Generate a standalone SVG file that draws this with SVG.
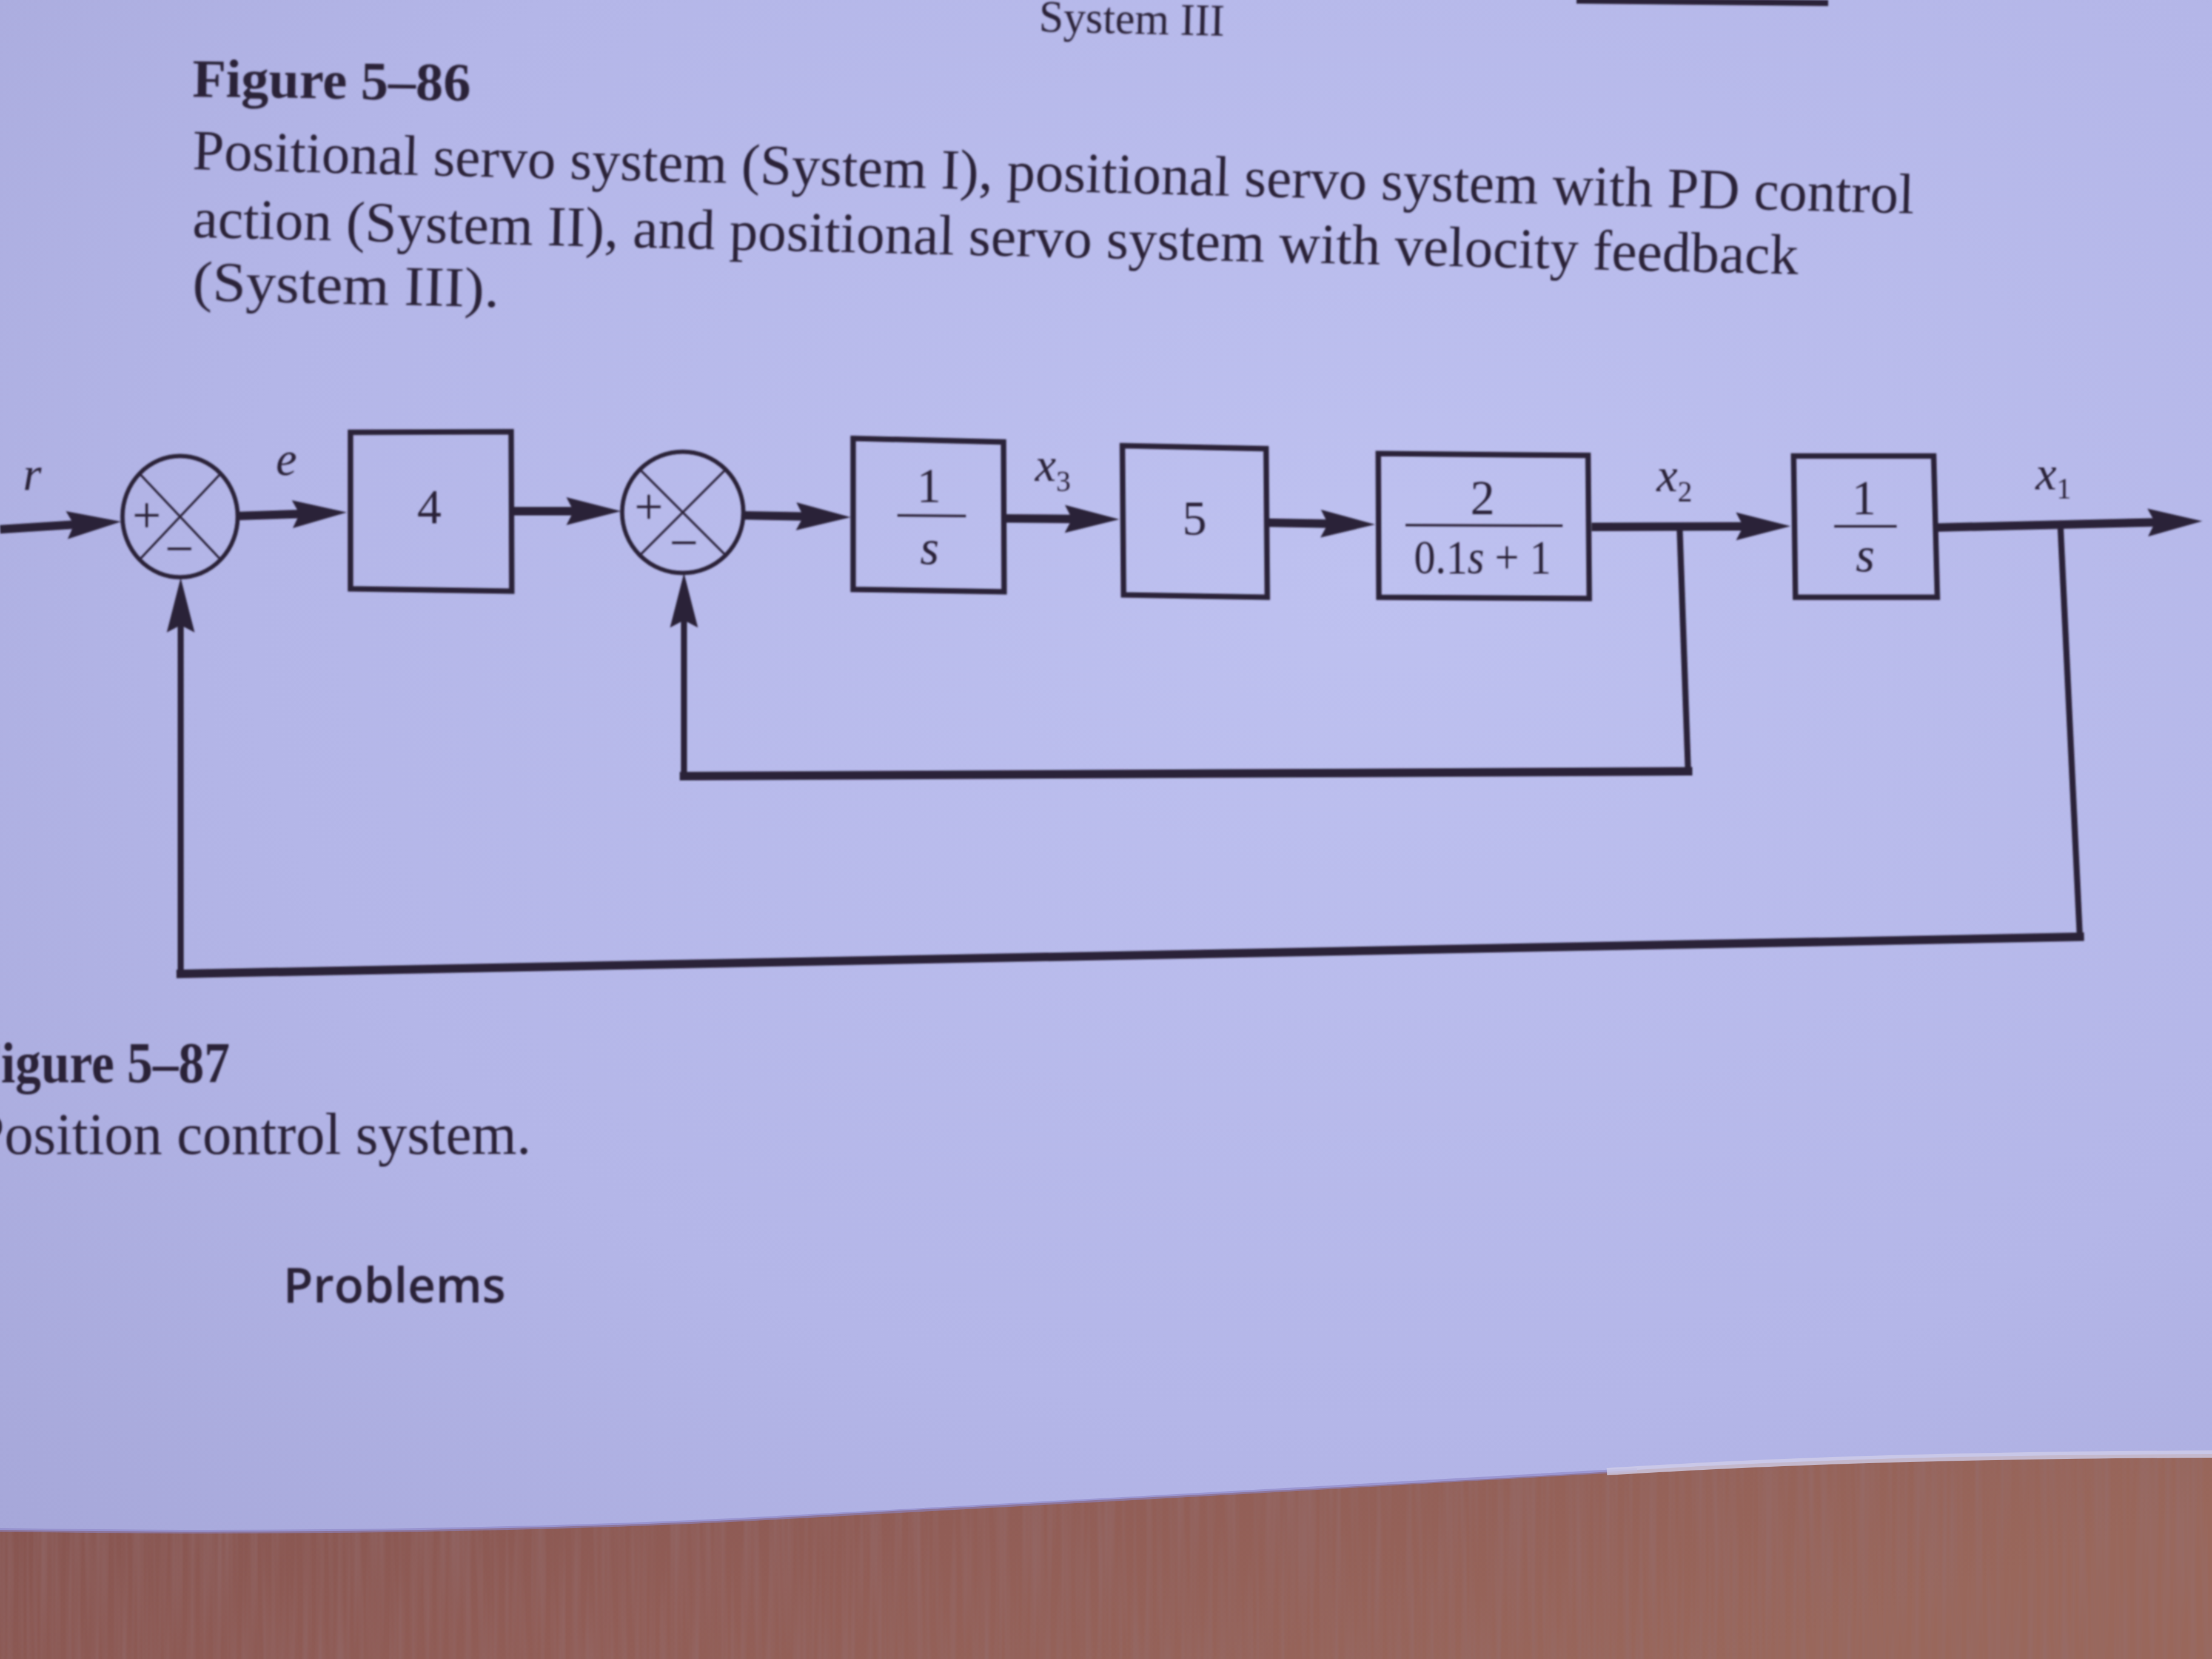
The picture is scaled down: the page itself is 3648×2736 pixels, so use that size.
<svg xmlns="http://www.w3.org/2000/svg" width="3648" height="2736" viewBox="0 0 3648 2736">
  <defs>
    <radialGradient id="paper" cx="0.62" cy="0.35" r="0.85">
      <stop offset="0" stop-color="#bec1f0"/>
      <stop offset="0.6" stop-color="#b4b6e8"/>
      <stop offset="1" stop-color="#a6a7d9"/>
    </radialGradient>
    <linearGradient id="wood" x1="0" y1="0" x2="1" y2="0.3">
      <stop offset="0" stop-color="#85534f"/>
      <stop offset="0.5" stop-color="#915d56"/>
      <stop offset="1" stop-color="#99675b"/>
    </linearGradient>
    <filter id="grain" x="0" y="0" width="1" height="1">
      <feTurbulence type="fractalNoise" baseFrequency="0.09 0.003" numOctaves="2" seed="7"/>
      <feColorMatrix type="matrix" values="0 0 0 0 0.3  0 0 0 0 0.16  0 0 0 0 0.17  0 0 0 0.9 -0.33"/>
    </filter>
    <filter id="soft" x="-0.02" y="-0.02" width="1.04" height="1.04">
      <feGaussianBlur stdDeviation="1.4"/>
    </filter>
    <clipPath id="deskClip">
      <path d="M0,2523 C400,2530 900,2525 1300,2502 C1700,2478 2300,2450 2700,2424 C3000,2405 3300,2400 3648,2398 L3648,2736 L0,2736 Z"/>
    </clipPath>
    <!-- filled arrowhead; the line ends 60 units short of the tip -->
    <marker id="ah" markerUnits="userSpaceOnUse" markerWidth="100" markerHeight="60" refX="30" refY="25" orient="auto" overflow="visible">
      <path d="M0,2 L90,25 L0,48 L12,25 Z" fill="#2a2238"/>
    </marker>
  </defs>
  <style>
    .blk{stroke:#2a2238;stroke-width:9;fill:none;stroke-linejoin:miter}
    .sum{stroke:#2a2238;stroke-width:7;fill:none}
    .sig{stroke:#2a2238;stroke-width:14;fill:none}
    .fbh{stroke:#2a2238;stroke-width:14;fill:none;stroke-linecap:square}
    .fbv{stroke:#2a2238;stroke-width:10;fill:none}
    .thin{stroke:#2a2238;stroke-width:3.5;fill:none}
    .bar{stroke:#2a2238;stroke-width:4}
    text{fill:#2a2238;font-family:"Liberation Serif","Times New Roman",serif}
    .it{font-style:italic}
    .lbl{font-size:78px}
    .tf{font-size:80px;text-anchor:middle}
    .sign{font-size:84px;text-anchor:middle}
    .cap{font-size:94px}
  </style>

  <!-- page and desk -->
  <rect x="0" y="0" width="3648" height="2736" fill="url(#paper)"/>
  <g clip-path="url(#deskClip)">
    <rect x="0" y="2380" width="3648" height="356" fill="url(#wood)"/>
    <rect x="0" y="2380" width="3648" height="356" filter="url(#grain)"/>
  </g>
  <path d="M0,2523 C400,2530 900,2525 1300,2502 C1700,2478 2300,2450 2700,2424" fill="none" stroke="#8c84c4" stroke-width="6" opacity="0.6"/>
  <path d="M2650,2427 C3000,2405 3300,2400 3648,2398" fill="none" stroke="#cfcde9" stroke-width="12" opacity="0.8"/>

  <g filter="url(#soft)">
    <!-- remnant of the figure above -->
    <path d="M2600,1 L3015,5" stroke="#2a2238" stroke-width="10" fill="none"/>

    <!-- captions -->
    <g id="captions">
      <text x="1713" y="52" font-size="73" textLength="306" lengthAdjust="spacingAndGlyphs" transform="rotate(1.3 1713 52)">System III</text>
      <text x="317" y="159" font-size="88" font-weight="bold" textLength="459" lengthAdjust="spacingAndGlyphs" transform="rotate(0.8 317 159)">Figure 5–86</text>
      <text class="cap" x="317" y="279" textLength="2840" lengthAdjust="spacingAndGlyphs" transform="rotate(1.47 317 279)">Positional servo system (System I), positional servo system with PD control</text>
      <text class="cap" x="317" y="391" textLength="2649" lengthAdjust="spacingAndGlyphs" transform="rotate(1.32 317 391)">action (System II), and positional servo system with velocity feedback</text>
      <text class="cap" x="317" y="495" textLength="506" lengthAdjust="spacingAndGlyphs" transform="rotate(1.3 317 495)">(System III).</text>
      <text x="-50" y="1785" font-size="96" font-weight="bold" textLength="429" lengthAdjust="spacingAndGlyphs">Figure 5–87</text>
      <text x="-46" y="1903" font-size="98" textLength="922" lengthAdjust="spacingAndGlyphs">Position control system.</text>
      <text x="467" y="2148" font-size="80" font-weight="600" textLength="367" lengthAdjust="spacingAndGlyphs" style="font-family:'Open Sans','Liberation Sans',sans-serif">Problems</text>
    </g>

    <!-- summing junction 1 -->
    <g id="sum1">
      <ellipse class="sum" cx="297" cy="852" rx="95" ry="100"/>
      <line class="thin" x1="230" y1="781" x2="364" y2="923"/>
      <line class="thin" x1="364" y1="781" x2="230" y2="923"/>
      <text class="sign" x="242" y="878">+</text>
      <text class="sign" x="296" y="933">−</text>
    </g>

    <!-- gain 4 -->
    <g id="gain4">
      <path class="blk" d="M578,713 L843,712 L844,975 L578,971 Z"/>
      <text class="tf" x="708" y="863" font-size="82">4</text>
    </g>

    <!-- summing junction 2 -->
    <g id="sum2">
      <ellipse class="sum" cx="1126" cy="845" rx="100" ry="100"/>
      <line class="thin" x1="1055" y1="774" x2="1197" y2="916"/>
      <line class="thin" x1="1197" y1="774" x2="1055" y2="916"/>
      <text class="sign" x="1070" y="864">+</text>
      <text class="sign" x="1128" y="923">−</text>
    </g>

    <!-- integrator 1/s -->
    <g id="integrator1">
      <path class="blk" d="M1407,723 L1655,729 L1656,976 L1407,972 Z"/>
      <text class="tf" x="1532" y="828">1</text>
      <line class="bar" x1="1480" y1="850" x2="1593" y2="851"/>
      <text class="tf it" x="1533" y="930">s</text>
    </g>

    <!-- gain 5 -->
    <g id="gain5">
      <path class="blk" d="M1851,735 L2088,740 L2090,985 L1853,981 Z"/>
      <text class="tf" x="1970" y="882">5</text>
    </g>

    <!-- first-order lag 2/(0.1s+1) -->
    <g id="lag">
      <path class="blk" d="M2273,748 L2619,751 L2621,987 L2274,985 Z"/>
      <text class="tf" x="2445" y="848" font-size="78">2</text>
      <line class="bar" x1="2318" y1="866" x2="2577" y2="867"/>
      <text x="2332" y="945" font-size="78" textLength="226" lengthAdjust="spacingAndGlyphs">0.1<tspan class="it">s</tspan> + 1</text>
    </g>

    <!-- integrator 1/s -->
    <g id="integrator2">
      <path class="blk" d="M2958,752 L3189,752 L3195,985 L2961,985 Z"/>
      <text class="tf" x="3074" y="848">1</text>
      <line class="bar" x1="3025" y1="868" x2="3128" y2="868"/>
      <text class="tf it" x="3076" y="942">s</text>
    </g>

    <!-- signal lines, feedback paths and their labels -->
    <g id="connectors">
      <path class="sig" d="M0,873 L140,864" marker-end="url(#ah)"/>
      <path class="sig" d="M392,851 L512,847" marker-end="url(#ah)"/>
      <path class="sig" d="M846,843 L964,843" marker-end="url(#ah)"/>
      <path class="sig" d="M1228,850 L1343,852" marker-end="url(#ah)"/>
      <path class="sig" d="M1659,855 L1786,856" marker-end="url(#ah)"/>
      <path class="sig" d="M2092,862 L2208,864" marker-end="url(#ah)"/>
      <path class="sig" d="M2625,869 L2893,868" marker-end="url(#ah)"/>
      <path class="sig" d="M3195,870 L3572,861" marker-end="url(#ah)"/>

      <!-- inner loop from x2 -->
      <path class="fbv" d="M2770,869 L2784,1272"/>
      <path class="fbh" d="M2784,1272 L1128,1280"/>
      <path class="fbv" d="M1128,1280 L1128,1005" marker-end="url(#ah)"/>

      <!-- outer loop from x1 -->
      <path class="fbv" d="M3398,866 L3430,1545"/>
      <path class="fbh" d="M3430,1545 L298,1606"/>
      <path class="fbv" d="M298,1606 L298,1013" marker-end="url(#ah)"/>

      <text class="lbl it" x="38" y="808" font-size="80">r</text>
      <text class="lbl it" x="455" y="783" font-size="80">e</text>
      <text class="lbl" x="1707" y="793"><tspan class="it">x</tspan><tspan font-size="48" dy="17">3</tspan></text>
      <text class="lbl" x="2732" y="810"><tspan class="it">x</tspan><tspan font-size="48" dy="17">2</tspan></text>
      <text class="lbl" x="3357" y="807"><tspan class="it">x</tspan><tspan font-size="48" dy="15">1</tspan></text>
    </g>
  </g>
</svg>
